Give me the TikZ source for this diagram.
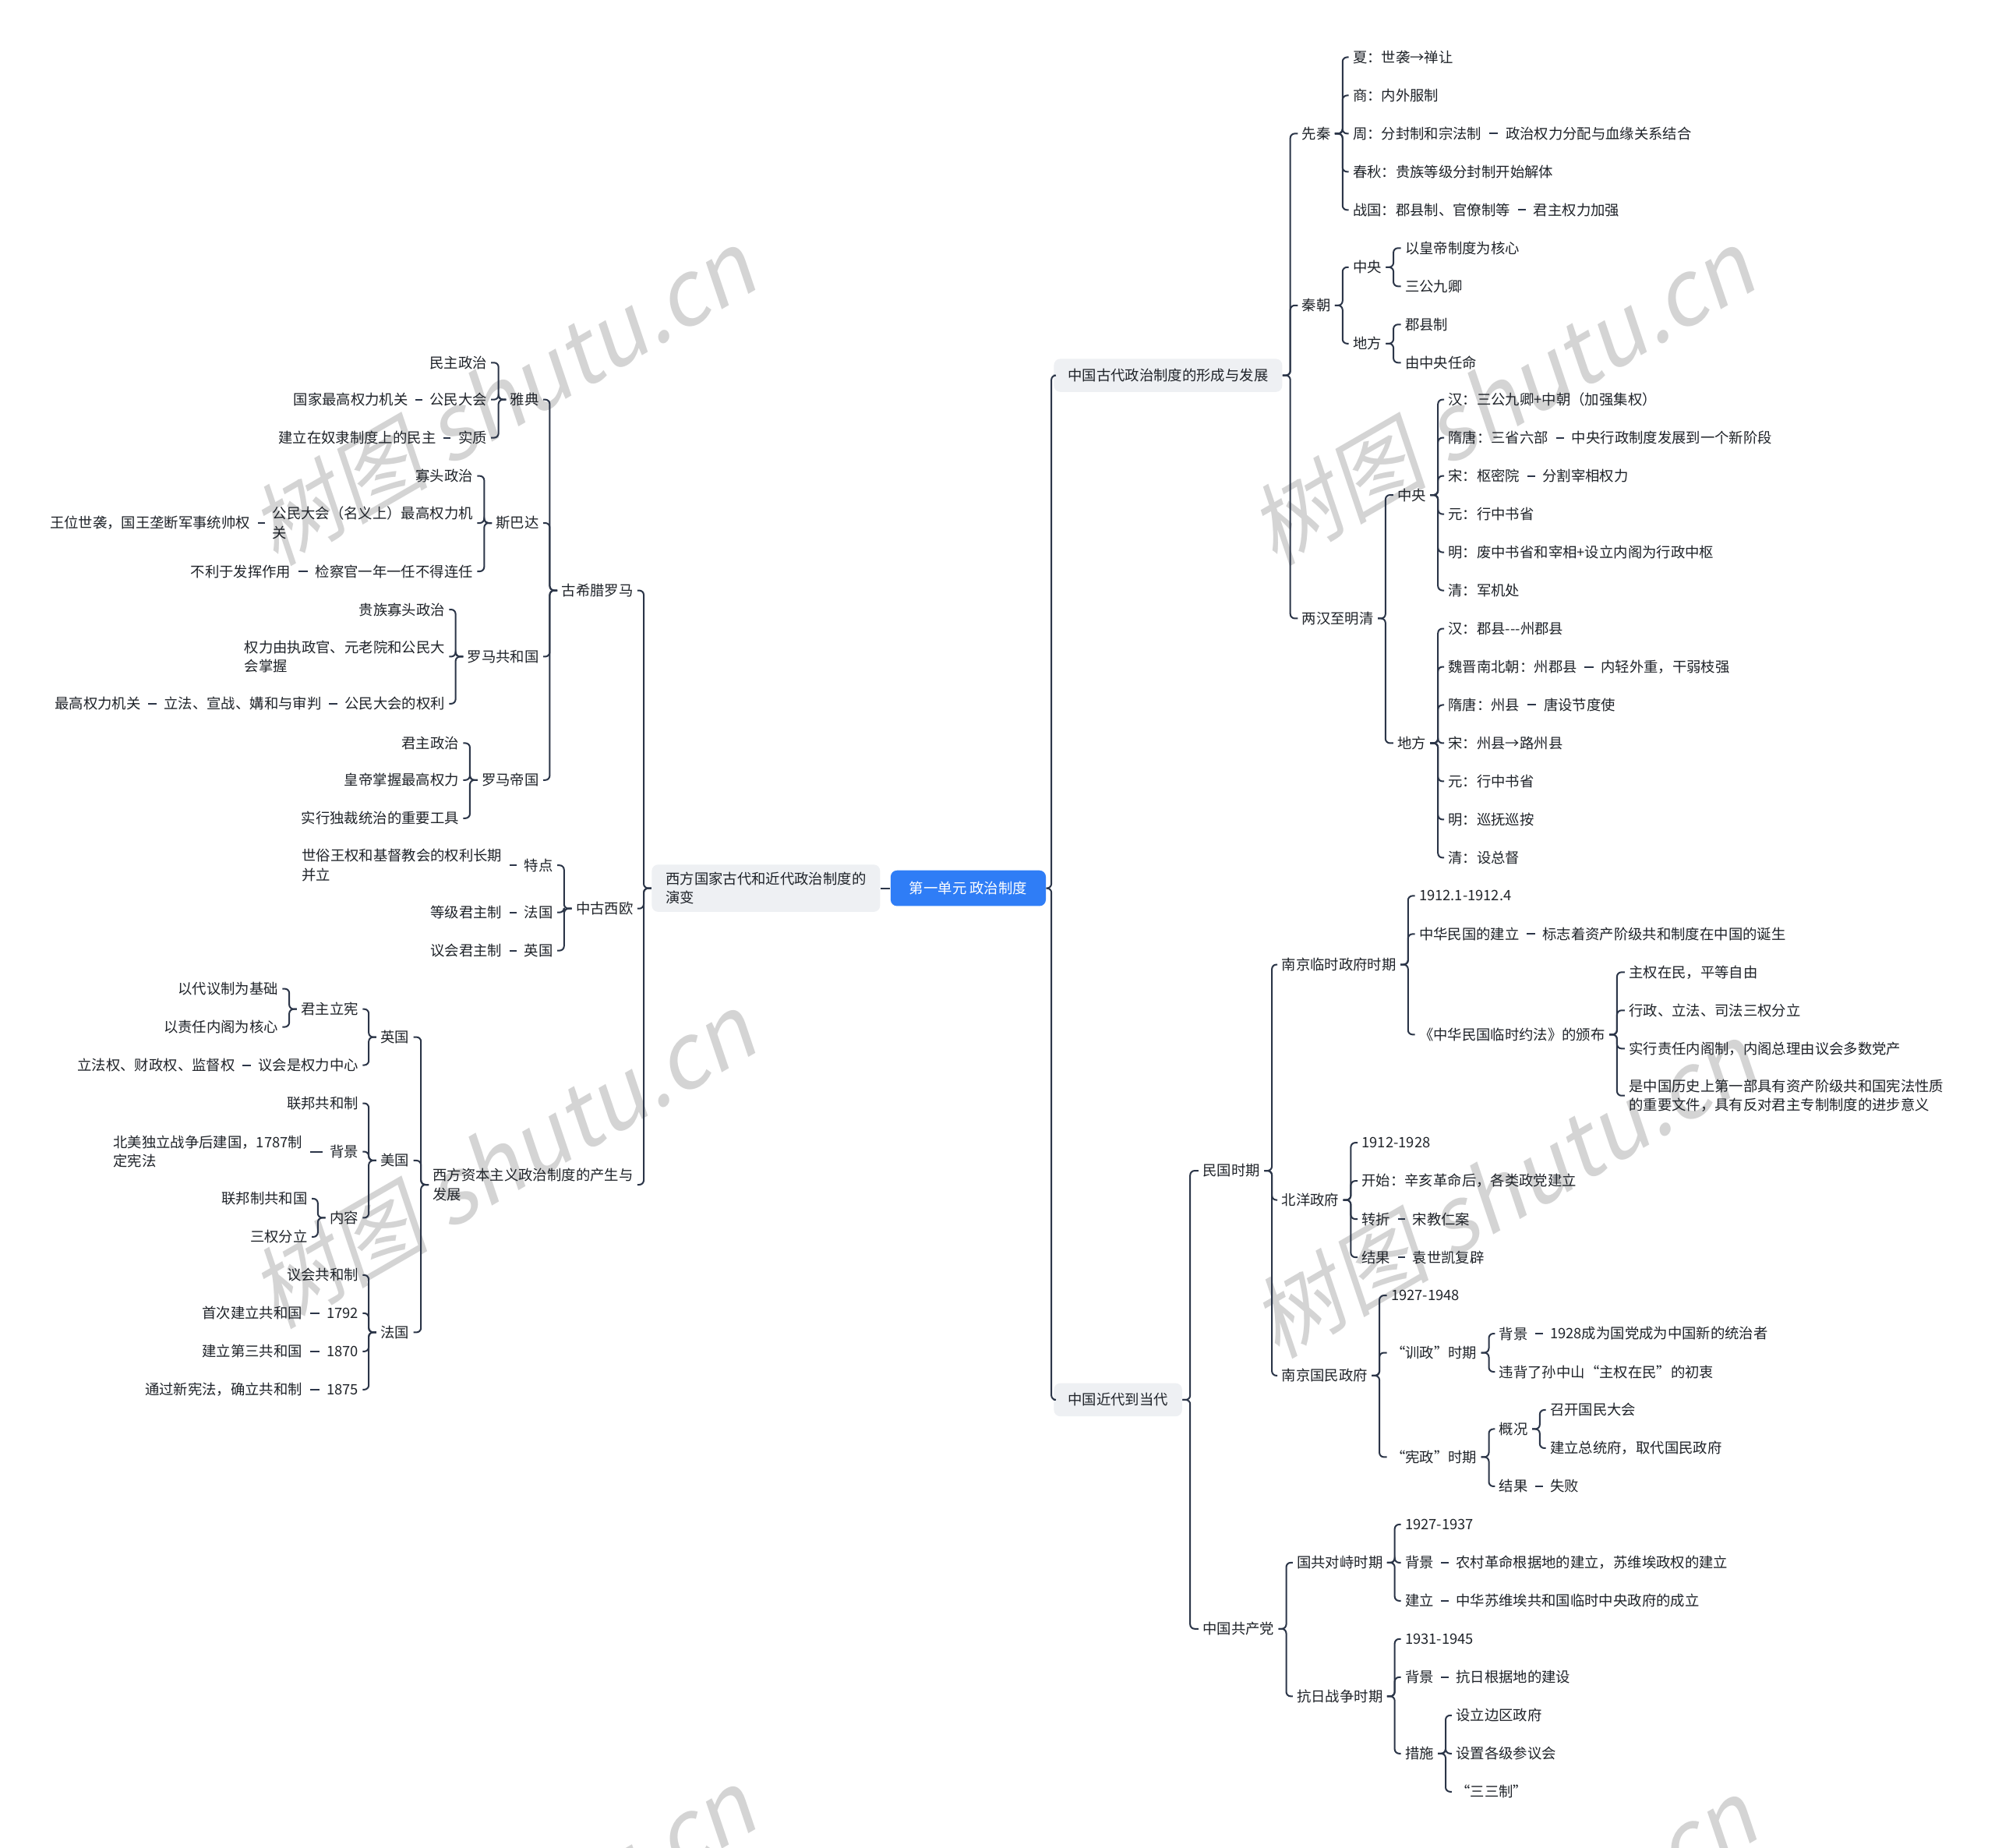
\documentclass[tikz,border=0pt]{standalone}
\usepackage{fontspec}
\setmainfont{Noto Sans CJK SC}
\newfontfamily\wmfont{Noto Sans CJK SC}[FakeSlant=0.2]
\definecolor{ink}{HTML}{1F2329}
\definecolor{wire}{HTML}{2B3548}
\definecolor{rootblue}{HTML}{2F7DF6}
\definecolor{topicgray}{HTML}{EEF0F3}
\definecolor{wmgray}{HTML}{D4D4D4}
\newcommand{\mapfont}{\fontsize{6.4pt}{8.5pt}\selectfont}

\begin{document}
\begin{tikzpicture}[x=0.02cm,y=-0.02cm,
  lnode/.style={anchor=east,font=\mapfont,text=ink,inner xsep=0.06cm,inner ysep=0.04cm,align=left},
  rnode/.style={anchor=west,font=\mapfont,text=ink,inner xsep=0.06cm,inner ysep=0.04cm,align=left},
  rootbox/.style={fill=rootblue,text=white,rounded corners=0.1cm,font=\mapfont,minimum height=0.56cm,minimum width=2.44cm,inner sep=0pt},
  topic/.style={fill=topicgray,text=ink,rounded corners=0.1cm,font=\mapfont,minimum height=0.52cm,inner xsep=0.22cm,align=left},
  branch/.style={draw=wire,line width=0.7pt,rounded corners=0.07cm},
  tie/.style={draw=wire,line width=0.7pt,shorten <=0.05cm,shorten >=0.05cm},
  wmark/.style={font=\wmfont\fontsize{40pt}{40pt}\selectfont,text=wmgray,rotate=30}]
\clip (0,0) rectangle (1568,1452);
\fill[white] (0,0) rectangle (1568,1452);
\node[wmark] (w1) at (395,312) {树图 shutu.cn};
\node[wmark] (w2) at (1180,312) {树图 shutu.cn};
\node[wmark] (w3) at (395,912) {树图 shutu.cn};
\node[wmark] (w4) at (1182,935) {树图 shutu.cn};
\node[wmark] (w5) at (395,1522) {树图 shutu.cn};
\node[wmark] (w6) at (1182,1530) {树图 shutu.cn};

\node[rootbox] (root) at (761,698) {第一单元 政治制度};
\node[topic] (wl) at (602,698) {西方国家古代和近代政治制度的\\演变};
\node[topic,anchor=west] (ga) at (828,295) {中国古代政治制度的形成与发展};
\node[topic,anchor=west] (jd) at (828,1100) {中国近代到当代};

\node[lnode] (gx) at (501,464) {古希腊罗马};
\node[lnode] (zg) at (501,714) {中古西欧};
\node[lnode] (zb) at (501,931) {西方资本主义政治制度的产生与\\发展};

\node[lnode] (yd) at (427,314) {雅典};
\node[lnode] (yd1) at (386,285) {民主政治};
\node[lnode] (yd2) at (386,314) {公民大会};
\node[lnode] (yd2a) at (324,314) {国家最高权力机关};
\node[lnode] (yd3) at (386,344) {实质};
\node[lnode] (yd3a) at (346,344) {建立在奴隶制度上的民主};
\node[lnode] (sb) at (427,411) {斯巴达};
\node[lnode] (sb1) at (375,374) {寡头政治};
\node[lnode] (sb2) at (375,411) {公民大会（名义上）最高权力机\\关};
\node[lnode] (sb2a) at (200,411) {王位世袭，国王垄断军事统帅权};
\node[lnode] (sb3) at (375,449) {检察官一年一任不得连任};
\node[lnode] (sb3a) at (232,449) {不利于发挥作用};
\node[lnode] (lg) at (427,516) {罗马共和国};
\node[lnode] (lg1) at (353,479) {贵族寡头政治};
\node[lnode] (lg2) at (353,516) {权力由执政官、元老院和公民大\\会掌握};
\node[lnode] (lg3) at (353,553) {公民大会的权利};
\node[lnode] (lg3a) at (256,553) {立法、宣战、媾和与审判};
\node[lnode] (lg3b) at (114,553) {最高权力机关};
\node[lnode] (ld) at (427,613) {罗马帝国};
\node[lnode] (ld1) at (364,584) {君主政治};
\node[lnode] (ld2) at (364,613) {皇帝掌握最高权力};
\node[lnode] (ld3) at (364,643) {实行独裁统治的重要工具};

\node[lnode] (zg1) at (438,680) {特点};
\node[lnode] (zg1a) at (398,680) {世俗王权和基督教会的权利长期\\并立};
\node[lnode] (zg2) at (438,717) {法国};
\node[lnode] (zg2a) at (398,717) {等级君主制};
\node[lnode] (zg3) at (438,747) {英国};
\node[lnode] (zg3a) at (398,747) {议会君主制};

\node[lnode] (yg) at (325,815) {英国};
\node[lnode] (yg1) at (285,793) {君主立宪};
\node[lnode] (yg1a) at (222,777) {以代议制为基础};
\node[lnode] (yg1b) at (222,807) {以责任内阁为核心};
\node[lnode] (yg2) at (285,837) {议会是权力中心};
\node[lnode] (yg2a) at (188,837) {立法权、财政权、监督权};
\node[lnode] (mg) at (325,912) {美国};
\node[lnode] (mg1) at (285,867) {联邦共和制};
\node[lnode] (mg2) at (285,905) {背景};
\node[lnode] (mg2a) at (241,905) {北美独立战争后建国，1787制\\定宪法};
\node[lnode] (mg3) at (285,957) {内容};
\node[lnode] (mg3a) at (245,942) {联邦制共和国};
\node[lnode] (mg3b) at (245,972) {三权分立};
\node[lnode] (fg) at (325,1047) {法国};
\node[lnode] (fg1) at (285,1002) {议会共和制};
\node[lnode] (fg2) at (285,1032) {1792};
\node[lnode] (fg2a) at (241,1032) {首次建立共和国};
\node[lnode] (fg3) at (285,1062) {1870};
\node[lnode] (fg3a) at (241,1062) {建立第三共和国};
\node[lnode] (fg4) at (285,1092) {1875};
\node[lnode] (fg4a) at (241,1092) {通过新宪法，确立共和制};

\node[rnode] (xq) at (1020,105) {先秦};
\node[rnode] (xq1) at (1060,45) {夏：世袭→禅让};
\node[rnode] (xq2) at (1060,75) {商：内外服制};
\node[rnode] (xq3) at (1060,105) {周：分封制和宗法制};
\node[rnode] (xq3a) at (1180,105) {政治权力分配与血缘关系结合};
\node[rnode] (xq4) at (1060,135) {春秋：贵族等级分封制开始解体};
\node[rnode] (xq5) at (1060,165) {战国：郡县制、官僚制等};
\node[rnode] (xq5a) at (1202,165) {君主权力加强};
\node[rnode] (qc) at (1020,240) {秦朝};
\node[rnode] (qc1) at (1060,210) {中央};
\node[rnode] (qc1a) at (1101,195) {以皇帝制度为核心};
\node[rnode] (qc1b) at (1101,225) {三公九卿};
\node[rnode] (qc2) at (1060,270) {地方};
\node[rnode] (qc2a) at (1101,255) {郡县制};
\node[rnode] (qc2b) at (1101,285) {由中央任命};
\node[rnode] (lh) at (1020,486) {两汉至明清};
\node[rnode] (lh1) at (1095,389) {中央};
\node[rnode] (lh1a) at (1135,314) {汉：三公九卿+中朝（加强集权）};
\node[rnode] (lh1b) at (1135,344) {隋唐：三省六部};
\node[rnode] (lh1b2) at (1232,344) {中央行政制度发展到一个新阶段};
\node[rnode] (lh1c) at (1135,374) {宋：枢密院};
\node[rnode] (lh1c2) at (1209,374) {分割宰相权力};
\node[rnode] (lh1d) at (1135,404) {元：行中书省};
\node[rnode] (lh1e) at (1135,434) {明：废中书省和宰相+设立内阁为行政中枢};
\node[rnode] (lh1f) at (1135,464) {清：军机处};
\node[rnode] (lh2) at (1095,584) {地方};
\node[rnode] (lh2a) at (1135,494) {汉：郡县-{}-{}-州郡县};
\node[rnode] (lh2b) at (1135,524) {魏晋南北朝：州郡县};
\node[rnode] (lh2b2) at (1255,524) {内轻外重，干弱枝强};
\node[rnode] (lh2c) at (1135,554) {隋唐：州县};
\node[rnode] (lh2c2) at (1210,554) {唐设节度使};
\node[rnode] (lh2d) at (1135,584) {宋：州县→路州县};
\node[rnode] (lh2e) at (1135,614) {元：行中书省};
\node[rnode] (lh2f) at (1135,644) {明：巡抚巡按};
\node[rnode] (lh2g) at (1135,674) {清：设总督};

\node[rnode] (mq) at (942,920) {民国时期};
\node[rnode] (nl) at (1004,758) {南京临时政府时期};
\node[rnode] (nl1) at (1112,704) {1912.1-1912.4};
\node[rnode] (nl2) at (1112,734) {中华民国的建立};
\node[rnode] (nl2a) at (1209,734) {标志着资产阶级共和制度在中国的诞生};
\node[rnode] (nl3) at (1112,813) {《中华民国临时约法》的颁布};
\node[rnode] (nl3a) at (1277,764) {主权在民，平等自由};
\node[rnode] (nl3b) at (1277,794) {行政、立法、司法三权分立};
\node[rnode] (nl3c) at (1277,824) {实行责任内阁制，内阁总理由议会多数党产};
\node[rnode] (nl3d) at (1277,861) {是中国历史上第一部具有资产阶级共和国宪法性质\\的重要文件，具有反对君主专制制度的进步意义};
\node[rnode] (by) at (1004,943) {北洋政府};
\node[rnode] (by1) at (1067,898) {1912-1928};
\node[rnode] (by2) at (1067,928) {开始：辛亥革命后，各类政党建立};
\node[rnode] (by3) at (1067,958) {转折};
\node[rnode] (by3a) at (1107,958) {宋教仁案};
\node[rnode] (by4) at (1067,988) {结果};
\node[rnode] (by4a) at (1107,988) {袁世凯复辟};
\node[rnode] (nm) at (1004,1081) {南京国民政府};
\node[rnode] (nm1) at (1090,1018) {1927-1948};
\node[rnode] (nm2) at (1090,1063) {“训政”时期};
\node[rnode] (nm2a) at (1175,1048) {背景};
\node[rnode] (nm2a2) at (1215,1048) {1928成为国党成为中国新的统治者};
\node[rnode] (nm2b) at (1175,1078) {违背了孙中山“主权在民”的初衷};
\node[rnode] (nm3) at (1090,1145) {“宪政”时期};
\node[rnode] (nm3a) at (1175,1123) {概况};
\node[rnode] (nm3a1) at (1215,1108) {召开国民大会};
\node[rnode] (nm3a2) at (1215,1138) {建立总统府，取代国民政府};
\node[rnode] (nm3b) at (1175,1168) {结果};
\node[rnode] (nm3b2) at (1215,1168) {失败};
\node[rnode] (gc) at (942,1280) {中国共产党};
\node[rnode] (gg) at (1016,1228) {国共对峙时期};
\node[rnode] (gg1) at (1101,1198) {1927-1937};
\node[rnode] (gg2) at (1101,1228) {背景};
\node[rnode] (gg2a) at (1141,1228) {农村革命根据地的建立，苏维埃政权的建立};
\node[rnode] (gg3) at (1101,1258) {建立};
\node[rnode] (gg3a) at (1141,1258) {中华苏维埃共和国临时中央政府的成立};
\node[rnode] (kr) at (1016,1333) {抗日战争时期};
\node[rnode] (kr1) at (1101,1288) {1931-1945};
\node[rnode] (kr2) at (1101,1318) {背景};
\node[rnode] (kr2a) at (1141,1318) {抗日根据地的建设};
\node[rnode] (kr3) at (1101,1378) {措施};
\node[rnode] (kr3a) at (1141,1348) {设立边区政府};
\node[rnode] (kr3b) at (1141,1378) {设置各级参议会};
\node[rnode] (kr3c) at (1141,1408) {“三三制”};

\draw[branch] (root.west) -- (wl.east);
\foreach \c in {ga,jd}
  \draw[branch] (root.east) -- ++(4,0) |- (\c.west);
\foreach \p/\c in {wl/gx,wl/zg,wl/zb,gx/yd,gx/sb,gx/lg,gx/ld,yd/yd1,yd/yd2,yd/yd3,
    sb/sb1,sb/sb2,sb/sb3,lg/lg1,lg/lg2,lg/lg3,ld/ld1,ld/ld2,ld/ld3,zg/zg1,zg/zg2,zg/zg3,
    zb/yg,zb/mg,zb/fg,yg/yg1,yg/yg2,yg1/yg1a,yg1/yg1b,mg/mg1,mg/mg2,mg/mg3,mg3/mg3a,mg3/mg3b,
    fg/fg1,fg/fg2,fg/fg3,fg/fg4}
  \draw[branch] (\p.west) -- ++(-6,0) |- (\c.east);
\foreach \p/\c in {yd2/yd2a,yd3/yd3a,sb2/sb2a,sb3/sb3a,lg3/lg3a,lg3a/lg3b,zg1/zg1a,zg2/zg2a,
    zg3/zg3a,yg2/yg2a,mg2/mg2a,fg2/fg2a,fg3/fg3a,fg4/fg4a}
  \draw[tie] (\p.west) -- (\c.east);
\foreach \p/\c in {ga/xq,ga/qc,ga/lh,xq/xq1,xq/xq2,xq/xq3,xq/xq4,xq/xq5,qc/qc1,qc/qc2,
    qc1/qc1a,qc1/qc1b,qc2/qc2a,qc2/qc2b,lh/lh1,lh/lh2,lh1/lh1a,lh1/lh1b,lh1/lh1c,lh1/lh1d,
    lh1/lh1e,lh1/lh1f,lh2/lh2a,lh2/lh2b,lh2/lh2c,lh2/lh2d,lh2/lh2e,lh2/lh2f,lh2/lh2g,
    jd/mq,jd/gc,mq/nl,mq/by,mq/nm,nl/nl1,nl/nl2,nl/nl3,nl3/nl3a,nl3/nl3b,nl3/nl3c,nl3/nl3d,
    by/by1,by/by2,by/by3,by/by4,nm/nm1,nm/nm2,nm/nm3,nm2/nm2a,nm2/nm2b,nm3/nm3a,nm3/nm3b,
    nm3a/nm3a1,nm3a/nm3a2,gc/gg,gc/kr,gg/gg1,gg/gg2,gg/gg3,kr/kr1,kr/kr2,kr/kr3,
    kr3/kr3a,kr3/kr3b,kr3/kr3c}
  \draw[branch] (\p.east) -- ++(6,0) |- (\c.west);
\foreach \p/\c in {xq3/xq3a,xq5/xq5a,lh1b/lh1b2,lh1c/lh1c2,lh2b/lh2b2,lh2c/lh2c2,nl2/nl2a,
    by3/by3a,by4/by4a,nm2a/nm2a2,nm3b/nm3b2,gg2/gg2a,gg3/gg3a,kr2/kr2a}
  \draw[tie] (\p.east) -- (\c.west);
\end{tikzpicture}
\end{document}
